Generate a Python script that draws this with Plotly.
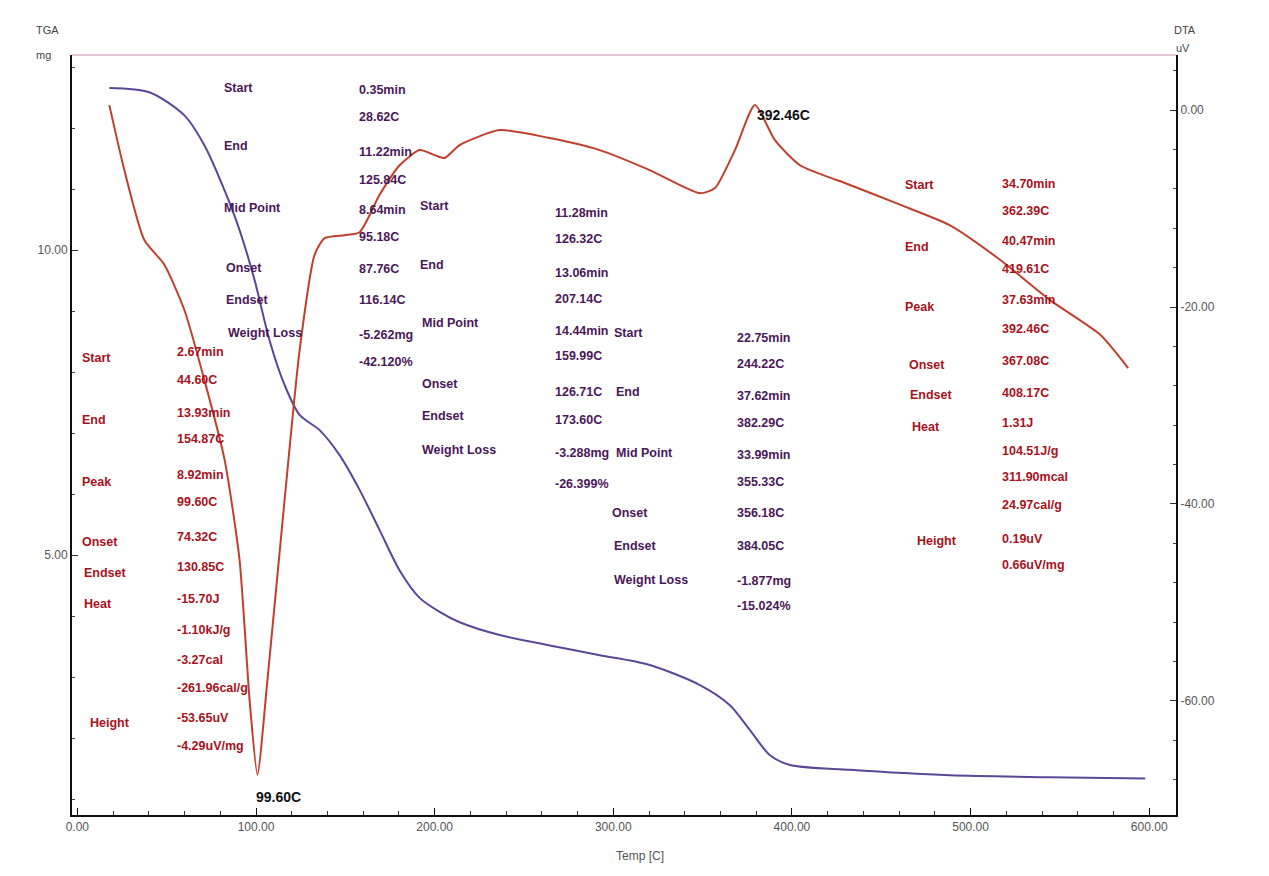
import plotly.graph_objects as go

# ---------------- data ----------------
tga_temp = [17.9, 40.3, 59.9, 71.1, 82.4, 90.8, 99.2, 107.6, 116.0, 124.4, 135.6, 146.8, 158.0,
            169.2, 180.4, 191.6, 202.8, 214.0, 236.4, 264.4, 292.4, 320.4, 348.5, 365.3, 376.5,
            387.7, 398.9, 432.5, 488.5, 544.5, 597.8]
tga_mg = [12.66, 12.59, 12.21, 11.72, 10.98, 10.33, 9.51, 8.52, 7.79, 7.30, 7.05, 6.64, 6.07,
          5.41, 4.75, 4.30, 4.07, 3.90, 3.69, 3.52, 3.36, 3.20, 2.87, 2.54, 2.13,
          1.72, 1.56, 1.48, 1.39, 1.36, 1.34]

dta_temp = [17.9, 26.3, 37.5, 48.7, 59.9, 71.1, 82.4, 90.8, 96.4, 100.8, 106.4, 116.0, 124.4,
            132.8, 138.4, 149.6, 158.0, 169.2, 180.4, 191.6, 200.0, 205.6, 214.0, 236.4, 264.4,
            292.4, 320.4, 348.5, 356.9, 368.1, 379.3, 390.5, 404.5, 432.5, 460.5, 488.5, 516.5,
            544.5, 572.5, 588.2]
dta_uv = [0.51, -6.09, -13.2, -15.7, -20.3, -27.4, -35.5, -45.7, -59.9, -67.5, -57.9, -39.6, -24.4,
          -14.7, -13.0, -12.7, -12.4, -8.6, -5.6, -4.06, -4.57, -4.87, -3.55, -2.03, -2.84,
          -4.06, -6.09, -8.43, -7.92, -4.06, 0.51, -3.05, -5.6, -7.6, -9.6, -11.7, -15.2,
          -19.3, -22.8, -26.2]

x_ticks = [0, 100, 200, 300, 400, 500, 600]
tga_ticks = [5, 10]
dta_ticks = [-60, -40, -20, 0]

# TGA step annotations
tga1_labels = ["Start", "End", "Mid Point", "Onset", "Endset", "Weight Loss"]
tga1_values = ["0.35min", "28.62C", "11.22min", "125.84C", "8.64min", "95.18C",
               "87.76C", "116.14C", "-5.262mg", "-42.120%"]
tga2_labels = ["Start", "End", "Mid Point", "Onset", "Endset", "Weight Loss"]
tga2_values = ["11.28min", "126.32C", "13.06min", "207.14C", "14.44min", "159.99C",
               "126.71C", "173.60C", "-3.288mg", "-26.399%"]
tga3_labels = ["Start", "End", "Mid Point", "Onset", "Endset", "Weight Loss"]
tga3_values = ["22.75min", "244.22C", "37.62min", "382.29C", "33.99min", "355.33C",
               "356.18C", "384.05C", "-1.877mg", "-15.024%"]
# DTA peak annotations
dta1_labels = ["Start", "End", "Peak", "Onset", "Endset", "Heat", "Height"]
dta1_values = ["2.67min", "44.60C", "13.93min", "154.87C", "8.92min", "99.60C", "74.32C",
               "130.85C", "-15.70J", "-1.10kJ/g", "-3.27cal", "-261.96cal/g",
               "-53.65uV", "-4.29uV/mg"]
dta2_labels = ["Start", "End", "Peak", "Onset", "Endset", "Heat", "Height"]
dta2_values = ["34.70min", "362.39C", "40.47min", "419.61C", "37.63min", "392.46C", "367.08C",
               "408.17C", "1.31J", "104.51J/g", "311.90mcal", "24.97cal/g",
               "0.19uV", "0.66uV/mg"]
peak_labels = ["99.60C", "392.46C"]

# ---------------- figure ----------------
PL, PR, PT, PB = 72, 1176, 55, 815


def px(X):
    return (X - PL) / (PR - PL)


def py(Y):
    return (PB - Y) / (PB - PT)


PURPLE_TXT = "#4a1858"
RED_TXT = "#a8121c"
FONT = "Liberation Sans, Arial, sans-serif"
TXT_SIZE = 12.5

fig = go.Figure()
fig.add_trace(go.Scatter(x=dta_temp, y=dta_uv, mode="lines", yaxis="y2",
                         line=dict(color="#c0402e", width=2, shape="spline", smoothing=0.6),
                         hoverinfo="skip", showlegend=False))
fig.add_trace(go.Scatter(x=tga_temp, y=tga_mg, mode="lines", yaxis="y",
                         line=dict(color="#5a4796", width=2, shape="spline", smoothing=0.8),
                         hoverinfo="skip", showlegend=False))

ann = []


def add_text(text, X, Y, color, size=TXT_SIZE, bold=True):
    ann.append(dict(text=f"<b>{text}</b>" if bold else text, x=px(X), y=py(Y),
                    xref="paper", yref="paper", xanchor="left", yanchor="middle",
                    showarrow=False, font=dict(family=FONT, size=size, color=color)))


def block(labels, lab_pos, values, val_x, val_ys, color):
    for t, (X, Y) in zip(labels, lab_pos):
        add_text(t, X, Y, color)
    for t, Y in zip(values, val_ys):
        add_text(t, val_x, Y, color)


block(tga1_labels, [(222, 88), (222, 146), (222, 208), (224, 268), (224, 300), (226, 333)],
      tga1_values, 357, [90, 117, 152, 180, 210, 237, 269, 300, 335, 362], PURPLE_TXT)
block(tga2_labels, [(418, 206), (418, 265), (420, 323), (420, 384), (420, 416), (420, 450)],
      tga2_values, 553, [213, 239, 273, 299, 331, 356, 392, 420, 453, 484], PURPLE_TXT)
block(tga3_labels, [(612, 333), (614, 392), (614, 453), (610, 513), (612, 546), (612, 580)],
      tga3_values, 735, [338, 364, 396, 423, 455, 482, 513, 546, 581, 606], PURPLE_TXT)
block(dta1_labels, [(80, 358), (80, 420), (80, 482), (80, 542), (82, 573), (82, 604), (88, 723)],
      dta1_values, 175, [352, 380, 413, 439, 475, 502, 537, 567, 599, 630, 660, 688, 718, 746], RED_TXT)
block(dta2_labels, [(903, 185), (903, 247), (903, 307), (907, 365), (908, 395), (910, 427), (915, 541)],
      dta2_values, 1000, [184, 211, 241, 269, 300, 329, 361, 393, 423, 451, 477, 505, 539, 565], RED_TXT)

add_text(peak_labels[0], 254, 797, "#111111", size=14)
add_text(peak_labels[1], 755, 115, "#111111", size=14)

# axis titles
add_text("TGA", 34, 30, "#444444", size=11, bold=False)
add_text("mg", 34, 55, "#444444", size=11, bold=False)
add_text("DTA", 1172, 30, "#444444", size=11, bold=False)
add_text("uV", 1174, 48, "#444444", size=11, bold=False)
ann.append(dict(text="Temp [C]", x=px(640), y=py(856), xref="paper", yref="paper",
                xanchor="center", yanchor="middle", showarrow=False,
                font=dict(family=FONT, size=12, color="#555555")))

tickfont = dict(family="Liberation Sans Narrow, Liberation Sans, sans-serif", size=12, color="#555555")

fig.update_layout(
    width=1253, height=860, autosize=False,
    margin=dict(l=PL - 8, r=1253 - (PR - 8), t=PT - 8, b=860 - (PB - 8)),
    paper_bgcolor="white", plot_bgcolor="white",
    annotations=ann,
    xaxis=dict(range=[-3, 615], tickvals=x_ticks, ticktext=[f"{v:.2f}" for v in x_ticks],
               showgrid=False, zeroline=False, showline=True, linecolor="#111111", linewidth=2,
               ticks="inside", ticklen=7, tickcolor="#111111",
               minor=dict(dtick=20, ticklen=4, ticks="inside", tickcolor="#333333"),
               tickfont=tickfont),
    yaxis=dict(range=[0.74, 13.2], tickvals=tga_ticks, ticktext=[f"{v:.2f}" for v in tga_ticks],
               showgrid=False, zeroline=False, showline=True, linecolor="#111111", linewidth=2,
               ticks="inside", ticklen=6, tickcolor="#333333",
               minor=dict(dtick=1, ticklen=3, ticks="inside", tickcolor="#444444"),
               tickfont=tickfont),
    yaxis2=dict(range=[-71.6, 5.6], overlaying="y", side="right",
                tickvals=dta_ticks, ticktext=[f"{v:.2f}" for v in dta_ticks],
                showgrid=False, zeroline=False, showline=True, linecolor="#111111", linewidth=2,
                ticks="inside", ticklen=6, tickcolor="#333333",
                minor=dict(dtick=4, ticklen=3, ticks="inside", tickcolor="#444444"),
                tickfont=tickfont),
    shapes=[dict(type="line", xref="paper", yref="paper", x0=0, x1=1, y0=1, y1=1,
                 line=dict(color="#e6c6d6", width=2))],
)

fig.write_html("out.html")
